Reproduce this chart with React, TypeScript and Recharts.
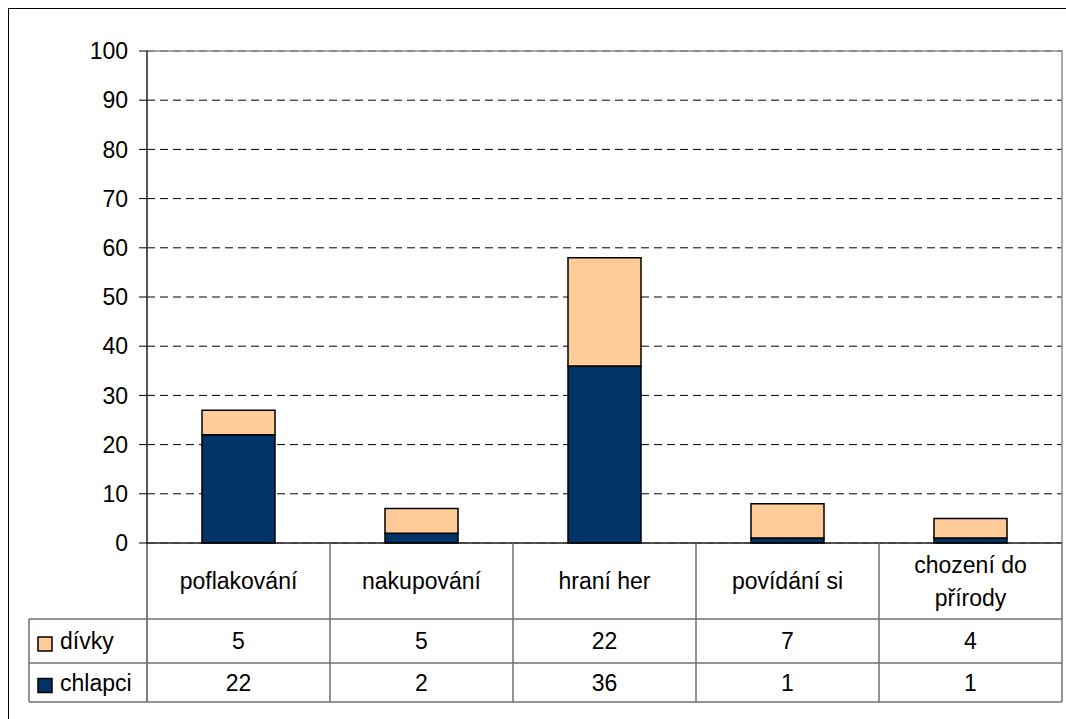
import React from 'react';
import { BarChart, Bar, XAxis, YAxis, CartesianGrid, ReferenceArea } from 'recharts';

const categories = ['poflakování', 'nakupování', 'hraní her', 'povídání si', 'chození do přírody'];
const divky = [5, 5, 22, 7, 4];
const chlapci = [22, 2, 36, 1, 1];
const yTicks = [0, 10, 20, 30, 40, 50, 60, 70, 80, 90, 100];
const seriesLabels = ['dívky', 'chlapci'];

const data = categories.map((name, i) => ({ name, divky: divky[i], chlapci: chlapci[i] }));

const FONT = '"Liberation Sans", Arial, sans-serif';
const FS = 23;
const CHART_W = 1057;
const CHART_H = 702;
const Y_AXIS_W = 138;
const RIGHT = 4;
const CELL_W = (CHART_W - Y_AXIS_W - RIGHT) / categories.length;
const LEG_W = 118;
// table row bottoms, measured from the x axis line
const ROW1 = 76;
const ROW2 = 120;
const ROW3 = 159;
const GRID = '#707070';
const COLORS = { divky: '#FFCC99', chlapci: '#003366' };

// greedy word wrap on characters
const wrap = (s: string, max = 12) => {
  const out: string[] = [];
  let cur = '';
  s.split(' ').forEach((w) => {
    if (cur && (cur + ' ' + w).length > max) {
      out.push(cur);
      cur = w;
    } else cur = cur ? cur + ' ' + w : w;
  });
  if (cur) out.push(cur);
  return out;
};

const TableTick = (props: any) => {
  const { x, y, payload } = props;
  const i = categories.indexOf(payload.value);
  const left = x - CELL_W / 2;
  const right = x + CELL_W / 2;
  const lines = wrap(payload.value);
  const mid = y + ROW1 / 2;
  const rowMid1 = y + (ROW1 + ROW2) / 2;
  const rowMid2 = y + (ROW2 + ROW3) / 2;
  const txt = { fontFamily: FONT, fontSize: FS, fill: '#000' };
  const legLeft = left - LEG_W;

  return (
    <g>
      {i === 0 && <line x1={left} y1={y} x2={left} y2={y + ROW3} stroke="#000" />}
      <line x1={right} y1={y} x2={right} y2={y + ROW3} stroke={GRID} strokeWidth={1.5} />
      {[ROW1, ROW2, ROW3].map((r) => (
        <line key={r} x1={left} y1={y + r} x2={right} y2={y + r} stroke={GRID} strokeWidth={1.5} />
      ))}
      {lines.map((l, k) => (
        <text key={k} x={x} y={mid + (k - (lines.length - 1) / 2) * 33} textAnchor="middle" dominantBaseline="central" {...txt}>
          {l}
        </text>
      ))}
      <text x={x} y={rowMid1} textAnchor="middle" dominantBaseline="central" {...txt}>{divky[i]}</text>
      <text x={x} y={rowMid2} textAnchor="middle" dominantBaseline="central" {...txt}>{chlapci[i]}</text>
      {i === 0 && (
        <g>
          <line x1={legLeft} y1={y + ROW1} x2={legLeft} y2={y + ROW3} stroke={GRID} strokeWidth={1.5} />
          {[ROW1, ROW2, ROW3].map((r) => (
            <line key={r} x1={legLeft} y1={y + r} x2={left} y2={y + r} stroke={GRID} strokeWidth={1.5} />
          ))}
          {[rowMid1, rowMid2].map((m, k) => (
            <g key={k}>
              <rect x={legLeft + 9} y={m - 4} width={14} height={14} fill={k === 0 ? COLORS.divky : COLORS.chlapci} stroke="#000" strokeWidth={1.5} />
              <text x={legLeft + 31} y={m} dominantBaseline="central" {...txt}>{seriesLabels[k]}</text>
            </g>
          ))}
        </g>
      )}
    </g>
  );
};

export default function App() {
  return (
    <div style={{ position: 'fixed', left: 0, top: 0, width: 1066, height: 719, overflow: 'hidden', background: '#fff' }}>
      <div style={{ position: 'absolute', left: 8, top: 8, width: 1058, height: 711, boxSizing: 'border-box', borderTop: '1px solid #000', borderLeft: '1px solid #000' }} />
      <div style={{ position: 'absolute', left: 9, top: 9 }}>
        <BarChart width={CHART_W} height={CHART_H} data={data} margin={{ top: 42, right: RIGHT, left: 0, bottom: 0 }}>
          <CartesianGrid vertical={false} stroke="#000" strokeDasharray="8 5" />
          <ReferenceArea y1={0} y2={100} fill="none" stroke="#909090" strokeWidth={1.5} ifOverflow="visible" />
          <XAxis
            dataKey="name"
            height={CHART_H - 42 - 492}
            interval={0}
            tickSize={0}
            tickMargin={0}
            tickLine={false}
            axisLine={{ stroke: '#000' }}
            tick={<TableTick />}
          />
          <YAxis
            width={Y_AXIS_W}
            domain={[0, 100]}
            ticks={yTicks}
            interval={0}
            tickSize={8}
            tickMargin={11}
            axisLine={{ stroke: '#000' }}
            tickLine={{ stroke: '#000' }}
            tick={{ fill: '#000', fontSize: FS, fontFamily: FONT }}
          />
          <Bar dataKey="chlapci" stackId="a" fill={COLORS.chlapci} stroke="#000" strokeWidth={1.5} barSize={73} isAnimationActive={false} />
          <Bar dataKey="divky" stackId="a" fill={COLORS.divky} stroke="#000" strokeWidth={1.5} barSize={73} isAnimationActive={false} />
        </BarChart>
      </div>
    </div>
  );
}
